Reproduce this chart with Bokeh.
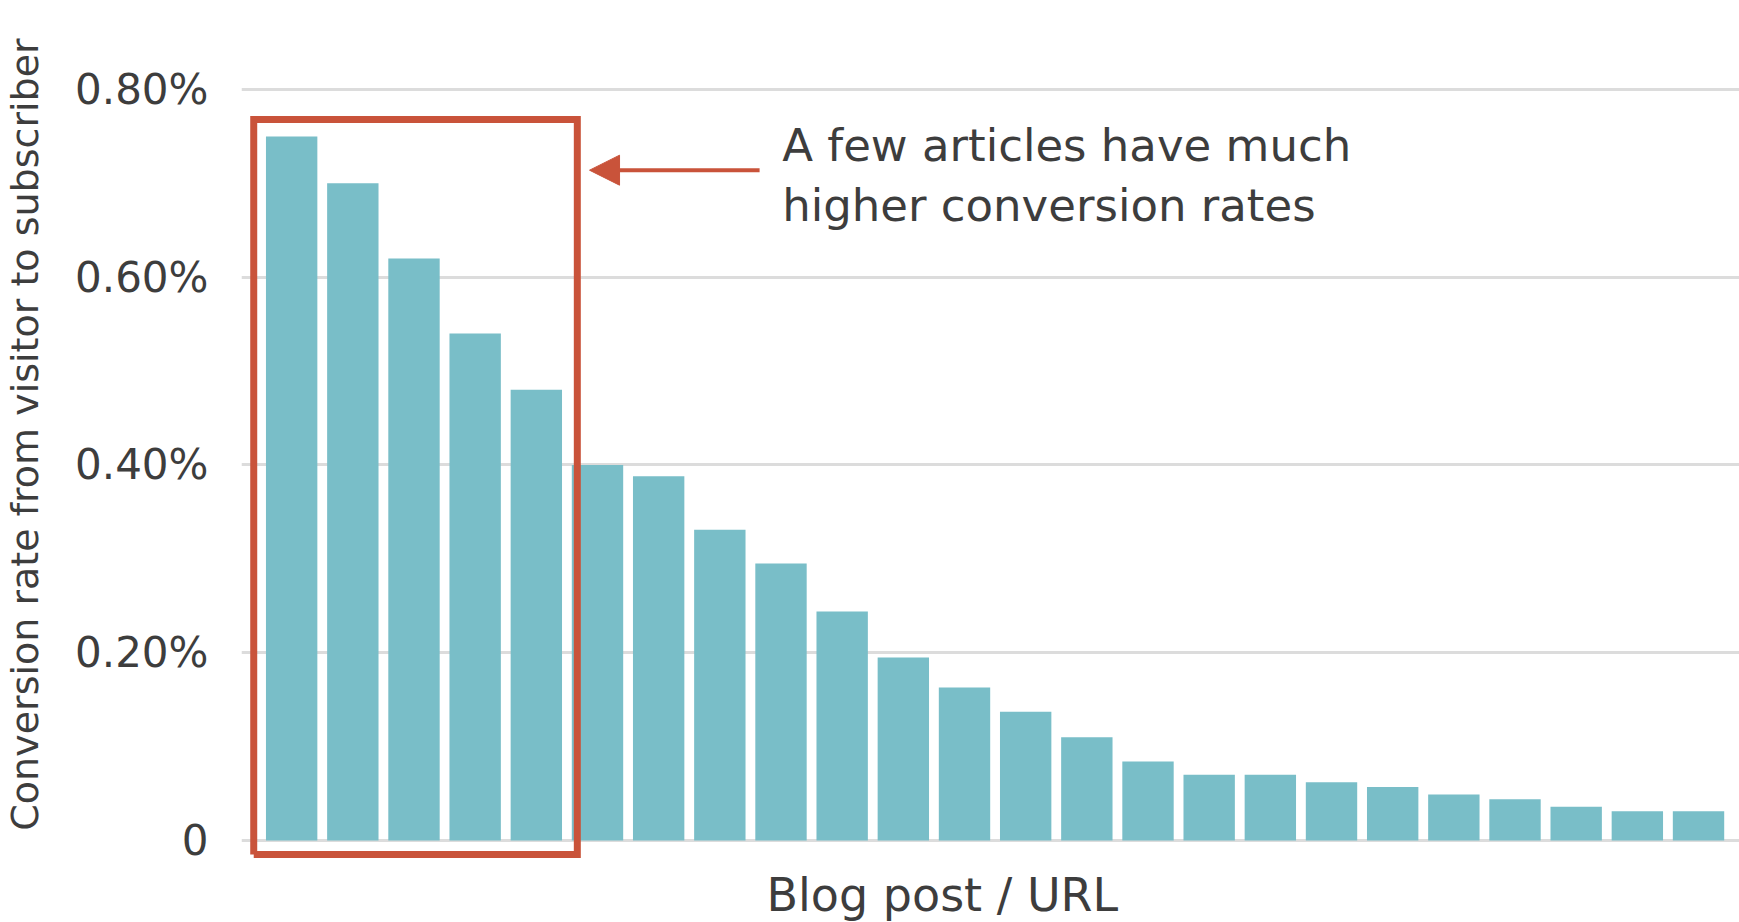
from bokeh.plotting import figure
from bokeh.models import (ColumnDataSource, FixedTicker, CustomJSTickFormatter,
                          Range1d, Arrow, NormalHead, Title)
from bokeh.embed import file_html
from bokeh.resources import INLINE
from bokeh.core.properties import value

# ---- data (conversion rate, %) ----
posts = list(range(1, 25))
rates = [0.75, 0.70, 0.62, 0.54, 0.48, 0.40, 0.388, 0.331, 0.295, 0.244,
         0.195, 0.163, 0.137, 0.110, 0.084, 0.070, 0.070, 0.062, 0.057,
         0.049, 0.044, 0.036, 0.031, 0.031]
y_ticks = [0, 0.2, 0.4, 0.6, 0.8]
highlight_n = 5
annotation_text = "A few articles have much\nhigher conversion rates"
y_title = "Conversion rate from visitor to subscriber"
x_title = "Blog post / URL"

BAR = "#79bec8"
RED = "#c9533a"
TXT = "#3d3d3d"
FONT = "DejaVu Sans"

src = ColumnDataSource(dict(x=posts, top=rates))

p = figure(width=1739, height=922, output_backend="svg", toolbar_location=None,
           x_range=Range1d(0.18, 24.67), y_range=Range1d(-0.0256, 0.8905),
           min_border_left=238, min_border_right=0, min_border_top=4,
           min_border_bottom=0)
p.outline_line_color = None
p.background_fill_color = "white"
p.border_fill_color = "white"

# grid
p.xgrid.visible = False
p.ygrid.grid_line_color = "#dcdcdc"
p.ygrid.grid_line_width = 3

# bars
p.vbar(x="x", top="top", bottom=0, width=0.84, source=src,
       fill_color=BAR, line_color=None)

# y axis
p.yaxis.ticker = FixedTicker(ticks=y_ticks)
p.yaxis.formatter = CustomJSTickFormatter(
    code="return Math.abs(tick) < 1e-9 ? '0' : tick.toFixed(2) + '%';")
p.yaxis.axis_line_color = None
p.yaxis.major_tick_line_color = None
p.yaxis.minor_tick_line_color = None
p.yaxis.major_label_standoff = 27
p.yaxis.major_label_text_font = FONT
p.yaxis.major_label_text_font_size = "42px"
p.yaxis.major_label_text_color = TXT
p.yaxis.axis_label = y_title
p.yaxis.axis_label_text_font = FONT
p.yaxis.axis_label_text_font_size = "38px"
p.yaxis.axis_label_text_font_style = "normal"
p.yaxis.axis_label_text_color = TXT
p.yaxis.axis_label_standoff = 25

# x axis: hidden, its title drawn as a title below the frame
p.xaxis.visible = False
p.add_layout(Title(text=x_title, align="left", offset=525,
                   text_font=FONT, text_font_size="46px",
                   text_font_style="normal", text_color=TXT,
                   standoff=2), "below")

# highlight box around first few bars
box_left = posts[0] - 0.62
box_right = posts[highlight_n - 1] + 0.67
box_top = max(rates[:highlight_n]) + 0.018
box_bottom = -0.015
p.line(x=[box_left, box_right, box_right, box_left, box_left],
       y=[box_bottom, box_bottom, box_top, box_top, box_bottom],
       line_color=RED, line_width=7, line_join="miter")

# arrow + annotation text
arrow_y = box_top - 0.054
p.add_layout(Arrow(x_start=box_right + 2.98, y_start=arrow_y,
                   x_end=box_right + 0.2, y_end=arrow_y,
                   line_color=RED, line_width=4,
                   end=NormalHead(size=30, fill_color=RED, line_color=RED)))
p.text(x=[box_right + 3.35], y=[box_top], text=[annotation_text],
       text_font=value(FONT), text_font_size="45px", text_color=TXT,
       text_baseline="top", text_align="left", text_line_height=1.13)

open("out.html", "w").write(file_html(p, INLINE))
